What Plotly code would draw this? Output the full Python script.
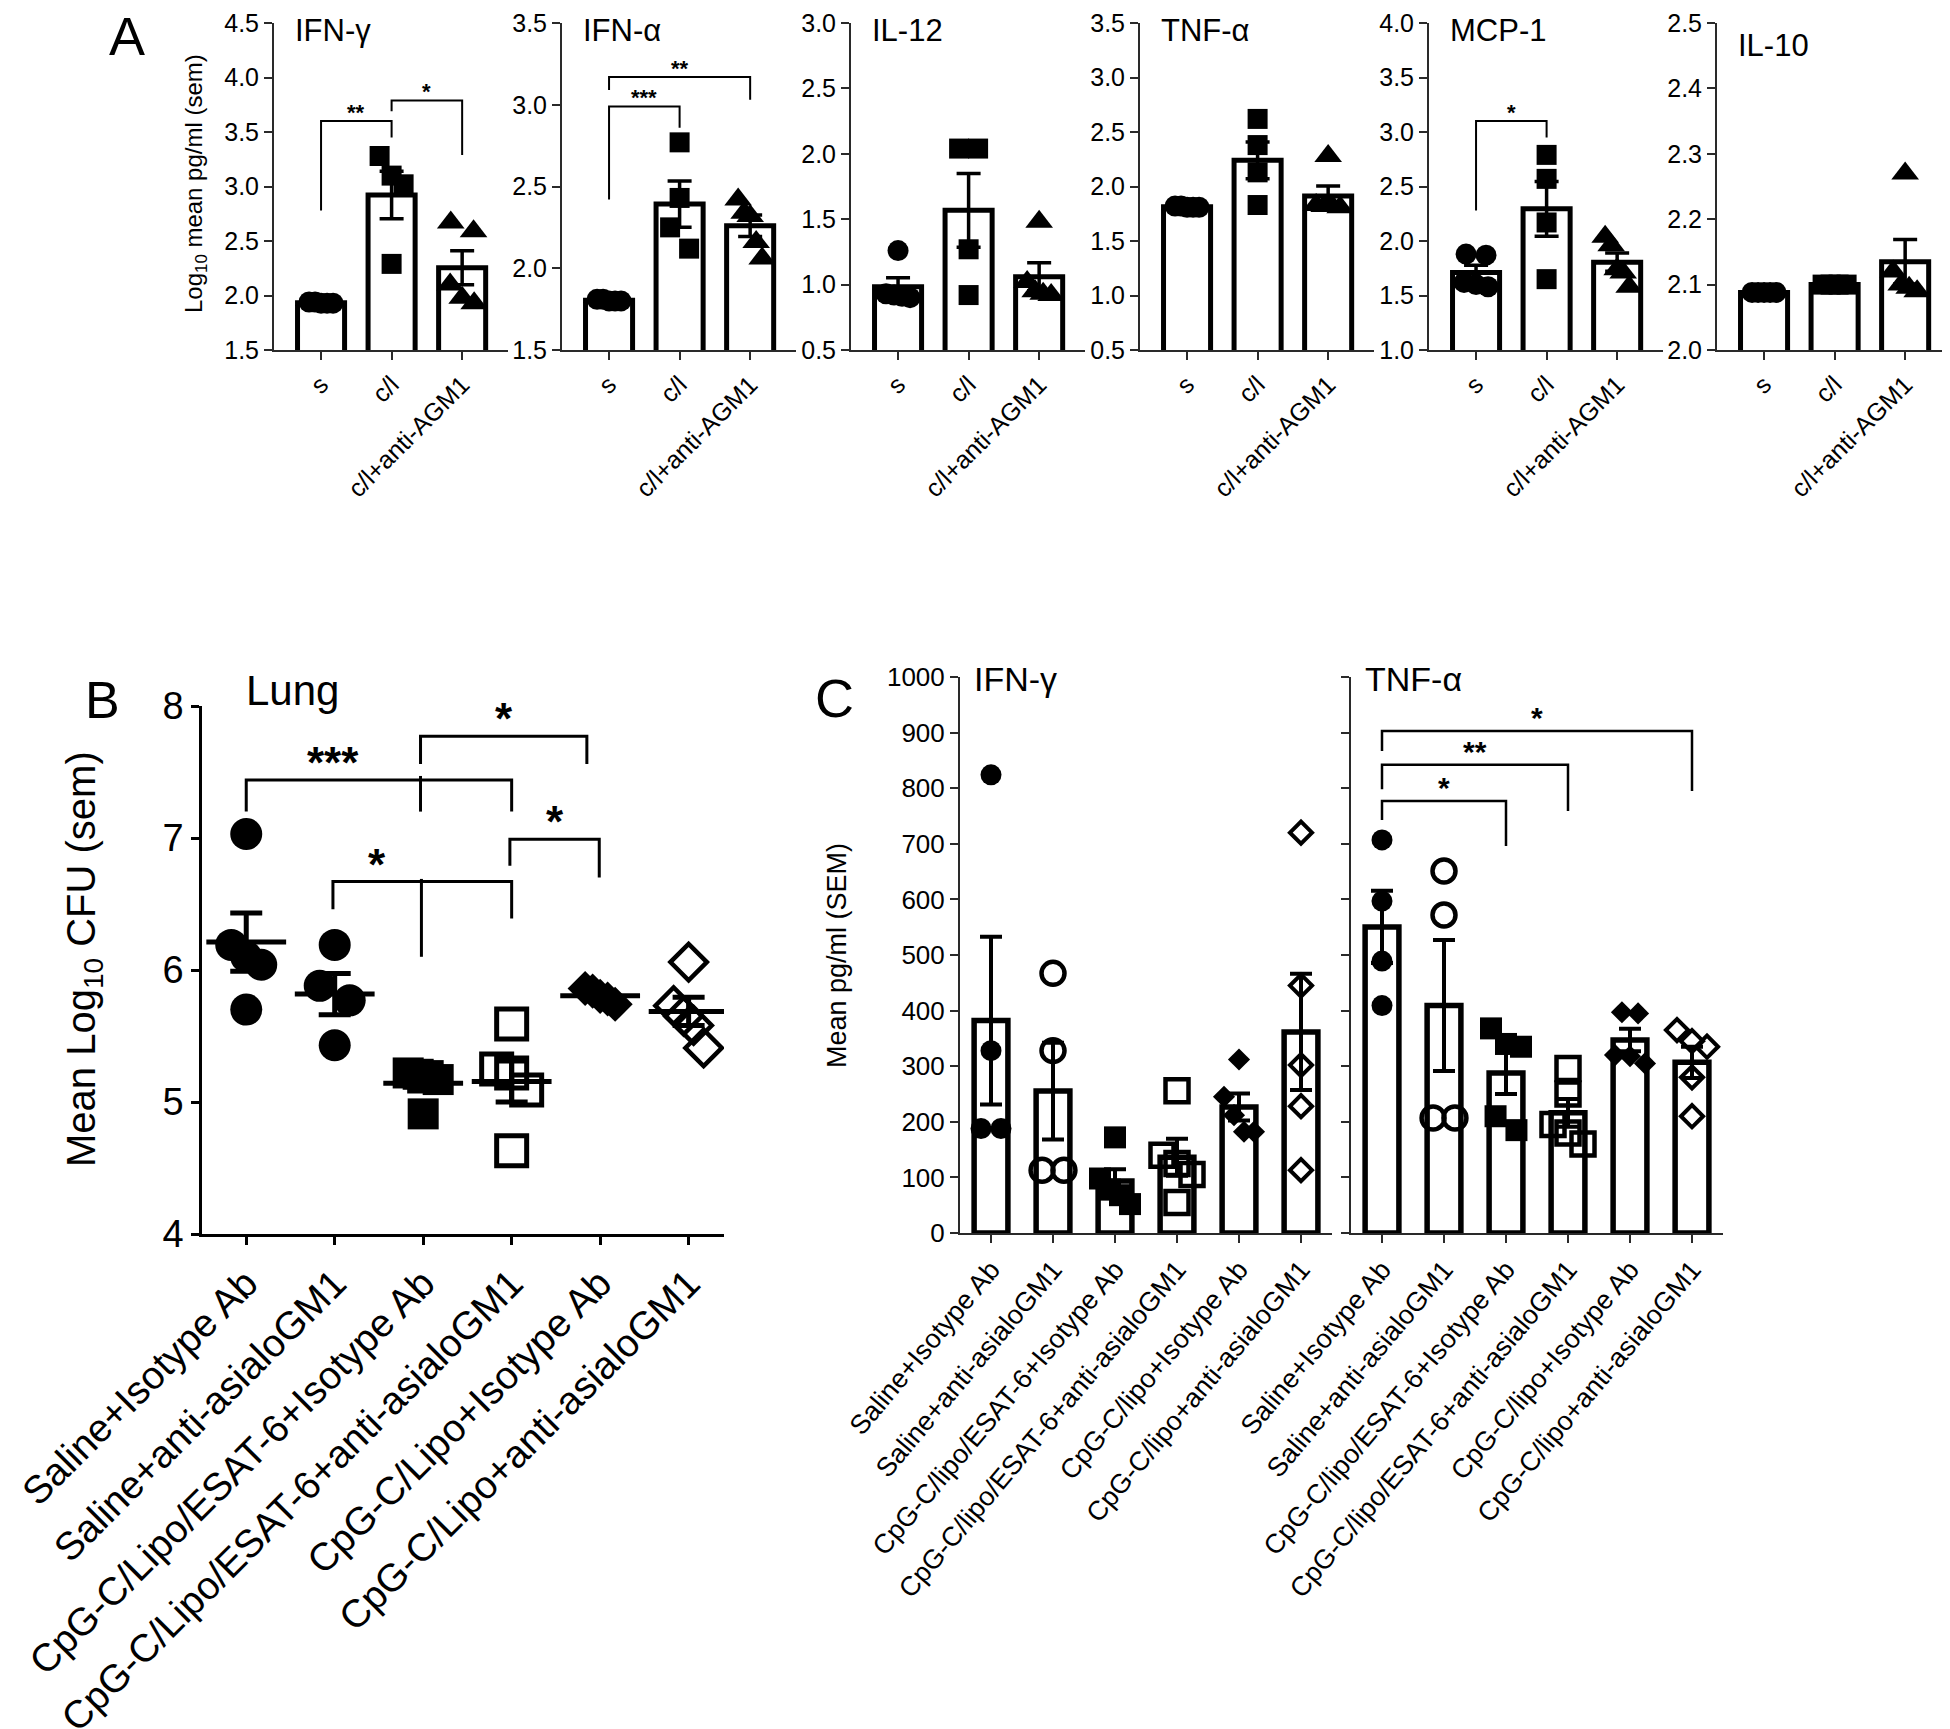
import numpy as np
import plotly.graph_objects as go

W, H = 1950, 1729
FONT = "Liberation Sans, Arial, Helvetica, sans-serif"

# ======================= DATA =======================
# Panel A : Log10 mean pg/ml
A_groups = ["s", "c/l", "c/l+anti-AGM1"]
A_cytokines = ["IFN-γ", "IFN-α", "IL-12", "TNF-α", "MCP-1", "IL-10"]
A_ifng = [[1.94, 1.93, 1.94, 1.93, 1.93], [3.28, 3.10, 3.02, 2.29], [2.67, 2.59, 2.10, 1.98, 1.93]]
A_ifna = [[1.81, 1.80, 1.81, 1.80, 1.80], [2.77, 2.43, 2.25, 2.12], [2.42, 2.34, 2.32, 2.16, 2.06]]
A_il12 = [[1.26, 0.93, 0.92, 0.91, 0.90], [2.04, 2.04, 1.27, 0.92], [1.48, 1.02, 0.95, 0.93, 0.92]]
A_tnfa = [[1.82, 1.81, 1.82, 1.81, 1.81], [2.62, 2.38, 2.13, 1.83], [2.28, 1.83, 1.82, 1.82, 1.81]]
A_mcp1 = [[1.88, 1.87, 1.62, 1.60, 1.58], [2.79, 2.57, 2.17, 1.65], [2.04, 1.96, 1.74, 1.71, 1.58]]
A_il10 = [[2.088, 2.088, 2.088, 2.088, 2.088], [2.10, 2.10, 2.10, 2.10], [2.27, 2.12, 2.10, 2.095, 2.09]]
A_data = [A_ifng, A_ifna, A_il12, A_tnfa, A_mcp1, A_il10]
A_yranges = [[1.5, 4.5], [1.5, 3.5], [0.5, 3.0], [0.5, 3.5], [1.0, 4.0], [2.0, 2.5]]
A_dticks = [0.5, 0.5, 0.5, 0.5, 0.5, 0.1]
# brackets: (group a, group b, top, leg a end, leg b end, label)
A_brackets = [
    [(0, 1, 3.60, 2.78, 3.45, "**"), (1, 2, 3.79, 3.69, 3.29, "*")],
    [(0, 1, 2.99, 2.42, 2.86, "***"), (0, 2, 3.17, 3.09, 3.03, "**")],
    [], [],
    [(0, 1, 3.10, 2.28, 2.95, "*")],
    [],
]

# Panel B : Lung, Mean Log10 CFU
B_groups = ["Saline+Isotype Ab", "Saline+anti-asialoGM1", "CpG-C/Lipo/ESAT-6+Isotype Ab",
            "CpG-C/Lipo/ESAT-6+anti-asialoGM1", "CpG-C/Lipo+Isotype Ab", "CpG-C/Lipo+anti-asialoGM1"]
B_cfu = [[7.03, 6.19, 6.04, 6.10, 5.70],
         [6.19, 5.88, 5.77, 5.43],
         [5.22, 5.21, 5.20, 5.17, 4.91],
         [5.59, 5.25, 5.22, 5.09, 4.63],
         [5.86, 5.84, 5.80, 5.78, 5.74],
         [6.06, 5.73, 5.65, 5.58, 5.41]]
B_bracket_lines = [
    [(0, 7.2), (0, 7.44), (3, 7.44), (3, 7.2)],
    [(1.97, 7.47), (1.97, 7.2)],
    [(1.97, 7.56), (1.97, 7.77), (3.85, 7.77), (3.85, 7.56)],
    [(0.98, 6.46), (0.98, 6.67), (3.0, 6.67), (3.0, 6.39)],
    [(1.98, 6.69), (1.98, 6.10)],
    [(2.98, 6.79), (2.98, 6.99), (3.99, 6.99), (3.99, 6.70)],
]
B_bracket_labels = [(0.985, 7.44, "***"), (2.91, 7.77, "*"), (1.48, 6.67, "*"), (3.485, 6.99, "*")]

# Panel C : Mean pg/ml
C_groups = ["Saline+Isotype Ab", "Saline+anti-asialoGM1", "CpG-C/lipo/ESAT-6+Isotype Ab",
            "CpG-C/lipo/ESAT-6+anti-asialoGM1", "CpG-C/lipo+Isotype Ab", "CpG-C/lipo+anti-asialoGM1"]
C_titles = ["IFN-γ", "TNF-α"]
C_ifng = [[824, 328, 188, 188], [467, 328, 113, 113], [172, 98, 78, 68, 52],
          [256, 140, 125, 105, 55], [312, 245, 212, 182, 182], [720, 445, 302, 228, 113]]
C_tnfa = [[707, 597, 489, 409], [651, 572, 207, 207], [368, 340, 335, 210, 185],
          [296, 250, 195, 180, 160], [397, 395, 320, 318, 305], [365, 345, 335, 280, 210]]
C_brackets_tnf = [(0, 2, 777, 743, 696, "*"), (0, 3, 842, 798, 759, "**"), (0, 5, 903, 867, 795, "*")]

# ======================= HELPERS =======================
def pxx(x):
    return x / W


def pxy(y):
    return 1 - y / H


def mean_sem(groups):
    m = np.array([np.mean(g) for g in groups])
    s = np.array([np.std(g, ddof=1) / np.sqrt(len(g)) for g in groups])
    return m, s


def swarm_offsets(vals, px_per_y, msize, maxspread, thresh=1.1):
    vals = np.asarray(vals, float)
    order = list(np.argsort(-vals, kind="stable"))
    offs = np.zeros(len(vals))
    clusters, cur = [], [order[0]]
    for a, b in zip(order[:-1], order[1:]):
        if abs(vals[a] - vals[b]) * px_per_y < thresh * msize:
            cur.append(b)
        else:
            clusters.append(cur)
            cur = [b]
    clusters.append(cur)
    for c in clusters:
        n = len(c)
        if n == 1:
            continue
        sp = min(msize * 0.95, maxspread / (n - 1))
        for i, idx in enumerate(c):
            offs[idx] = (i - (n - 1) / 2) * sp
    return offs


layout = dict(width=W, height=H, margin=dict(l=0, r=0, t=0, b=0),
              paper_bgcolor="white", plot_bgcolor="rgba(0,0,0,0)", showlegend=False,
              font=dict(family=FONT, color="black"), annotations=[], shapes=[])
traces = []


def add_axes(n, xpx, ypx, xr, yr, dtick, tfmt, xtext, xfont, yfont, lw, lc, show_ylab=True, xangle=-45):
    key = "" if n == 1 else str(n)
    layout["xaxis" + key] = dict(
        domain=[pxx(xpx[0]), pxx(xpx[1])], range=xr, anchor="y" + key,
        showline=True, linewidth=lw, linecolor=lc, ticks="outside", ticklen=8, tickwidth=lw,
        tickcolor=lc, tickvals=list(range(len(xtext))), ticktext=xtext, tickangle=xangle,
        ticklabeloverflow="allow",
        tickfont=dict(size=xfont, family=FONT, color="black"), showgrid=False, zeroline=False,
        automargin=False, fixedrange=True)
    layout["yaxis" + key] = dict(
        domain=[pxy(ypx[1]), pxy(ypx[0])], range=yr, anchor="x" + key,
        showline=True, linewidth=lw, linecolor=lc, ticks="outside", ticklen=8, tickwidth=lw,
        tickcolor=lc, tick0=yr[0], dtick=dtick, tickformat=tfmt, showticklabels=show_ylab,
        ticklabeloverflow="allow",
        tickfont=dict(size=yfont, family=FONT, color="black"), showgrid=False, zeroline=False,
        automargin=False, fixedrange=True)
    return "x" + key, "y" + key


def bracket_path(pts):
    return "M " + " L ".join(f"{x},{y}" for x, y in pts)


def paper_text(x, y, text, size, xanchor="center", yanchor="middle", angle=0):
    layout["annotations"].append(dict(x=pxx(x), y=pxy(y), xref="paper", yref="paper", text=text,
                                      showarrow=False, xanchor=xanchor, yanchor=yanchor, textangle=angle,
                                      font=dict(size=size, family=FONT, color="black")))


# ======================= PANEL A =======================
A_axis_x = [266, 554, 843, 1132, 1421, 1709]
A_len, A_top, A_bot = 234, 15, 342
A_xr = [-0.667, 2.65]
A_sym = ["circle", "square", "triangle-up"]
A_msize = [21, 20, 24]
ppx_A = A_len / (A_xr[1] - A_xr[0])

for i, data in enumerate(A_data):
    n = i + 1
    x0 = A_axis_x[i]
    xa, ya = add_axes(n, [x0, x0 + A_len], [A_top, A_bot], A_xr, A_yranges[i], A_dticks[i], ".1f",
                      A_groups, 25, 25, 2, "#2a2a2a")
    m, s = mean_sem(data)
    traces.append(go.Bar(x=[0, 1, 2], y=m, width=0.667, xaxis=xa, yaxis=ya,
                         marker=dict(color="white", line=dict(color="black", width=5))))
    ppy = (A_bot - A_top) / (A_yranges[i][1] - A_yranges[i][0])
    for g, vals in enumerate(data):
        offs = swarm_offsets(vals, ppy, A_msize[g], 24)
        traces.append(go.Scatter(x=g + offs / ppx_A, y=vals, mode="markers", xaxis=xa, yaxis=ya,
                                 marker=dict(symbol=A_sym[g], size=A_msize[g], color="black",
                                             line=dict(width=0))))
    traces.append(go.Scatter(x=[0, 1, 2], y=m, mode="markers", xaxis=xa, yaxis=ya,
                             marker=dict(size=1, color="rgba(0,0,0,0)"),
                             error_y=dict(type="data", array=s, color="black", thickness=3.5, width=12)))
    for (ga, gb, top, la, lb, lab) in A_brackets[i]:
        layout["shapes"].append(dict(type="path", xref=xa, yref=ya,
                                     path=bracket_path([(ga, la), (ga, top), (gb, top), (gb, lb)]),
                                     line=dict(color="black", width=2)))
        layout["annotations"].append(dict(x=(ga + gb) / 2, y=top, xref=xa, yref=ya, text=f"<b>{lab}</b>",
                                          showarrow=False, yanchor="bottom", yshift=-6,
                                          font=dict(size=22, family=FONT, color="black")))
    ty = 22 if i < 5 else 37
    paper_text(x0 + 19, ty, A_cytokines[i], 31, xanchor="left")

paper_text(188, 176, "Log<sub>10</sub> mean pg/ml (sem)", 24, angle=-90)
paper_text(119, 28, "A", 54)

# ======================= PANEL B =======================
nB = 7
B_xr = [-0.5, 5.4]
B_x0, B_x1, B_top, B_bot = 194, 716, 698, 1226
xb, yb = add_axes(nB, [B_x0, B_x1], [B_top, B_bot], B_xr, [4, 8], 1, "d", B_groups, 39, 38, 2.5, "black")
B_sym = ["circle", "circle", "square", "square-open", "diamond", "diamond-open"]
B_msize = [32, 32, 31, 30, 27, 28]
B_lw = [0, 0, 0, 5, 0, 4.5]
ppx_B = (B_x1 - B_x0) / (B_xr[1] - B_xr[0])
ppy_B = (B_bot - B_top) / 4
mB, sB = mean_sem(B_cfu)
for g, vals in enumerate(B_cfu):
    offs = swarm_offsets(vals, ppy_B, B_msize[g], 30)
    traces.append(go.Scatter(x=g + offs / ppx_B, y=vals, mode="markers", xaxis=xb, yaxis=yb,
                             marker=dict(symbol=B_sym[g], size=B_msize[g], color="black",
                                         line=dict(width=B_lw[g], color="black"))))
traces.append(go.Scatter(x=list(range(6)), y=mB, mode="markers", xaxis=xb, yaxis=yb,
                         marker=dict(symbol="line-ew", size=57, color="black",
                                     line=dict(width=5, color="black")),
                         error_y=dict(type="data", array=sB, color="black", thickness=5, width=16)))
for pts in B_bracket_lines:
    layout["shapes"].append(dict(type="path", xref=xb, yref=yb, path=bracket_path(pts),
                                 line=dict(color="black", width=3)))
for (bx, by, lab) in B_bracket_labels:
    layout["annotations"].append(dict(x=bx, y=by, xref=xb, yref=yb, text=f"<b>{lab}</b>", showarrow=False,
                                      yanchor="bottom", yshift=-9,
                                      font=dict(size=44, family=FONT, color="black")))
paper_text(236, 682, "Lung", 42, xanchor="left")
paper_text(76, 951, "Mean Log<sub>10</sub> CFU (sem)", 40, angle=-90)
paper_text(94, 692, "B", 52)

# ======================= PANEL C =======================
C_axis_x = [952, 1343]
C_len, C_top, C_bot = 372, 669, 1225
C_xr = [-0.5, 5.5]
C_sym = ["circle", "circle-open", "square", "square-open", "diamond", "diamond-open"]
C_msize = [21, 23, 22, 23, 17, 17]
C_lw = [0, 4.5, 0, 4.5, 0, 4]
ppx_C = C_len / (C_xr[1] - C_xr[0])
ppy_C = (C_bot - C_top) / 1000
for j, data in enumerate([C_ifng, C_tnfa]):
    n = 8 + j
    x0 = C_axis_x[j]
    xc, yc = add_axes(n, [x0, x0 + C_len], [C_top, C_bot], C_xr, [0, 1000], 100, "d", C_groups, 27, 26,
                      2, "#2a2a2a", show_ylab=(j == 0), xangle=-50)
    m, s = mean_sem(data)
    traces.append(go.Bar(x=list(range(6)), y=m, width=0.545, xaxis=xc, yaxis=yc,
                         marker=dict(color="white", line=dict(color="black", width=5.5))))
    for g, vals in enumerate(data):
        offs = swarm_offsets(vals, ppy_C, C_msize[g], 30)
        traces.append(go.Scatter(x=g + offs / ppx_C, y=vals, mode="markers", xaxis=xc, yaxis=yc,
                                 marker=dict(symbol=C_sym[g], size=C_msize[g], color="black",
                                             line=dict(width=C_lw[g], color="black"))))
    traces.append(go.Scatter(x=list(range(6)), y=m, mode="markers", xaxis=xc, yaxis=yc,
                             marker=dict(size=1, color="rgba(0,0,0,0)"),
                             error_y=dict(type="data", array=s, color="black", thickness=4, width=11)))
    paper_text(x0 + 12, 671, C_titles[j], 34, xanchor="left")
    if j == 1:
        for (ga, gb, top, la, lb, lab) in C_brackets_tnf:
            layout["shapes"].append(dict(type="path", xref=xc, yref=yc,
                                         path=bracket_path([(ga, la), (ga, top), (gb, top), (gb, lb)]),
                                         line=dict(color="black", width=2.5)))
            layout["annotations"].append(dict(x=(ga + gb) / 2, y=top, xref=xc, yref=yc, text=f"<b>{lab}</b>",
                                              showarrow=False, yanchor="bottom", yshift=-5,
                                              font=dict(size=30, family=FONT, color="black")))

paper_text(829, 948, "Mean pg/ml (SEM)", 27, angle=-90)
paper_text(826, 690, "C", 54)

fig = go.Figure(data=traces, layout=layout)
fig.update_layout(template="none", margin=dict(l=0, r=0, t=0, b=0), showlegend=False,
                  paper_bgcolor="white", plot_bgcolor="rgba(0,0,0,0)")
fig.write_html("out.html")
